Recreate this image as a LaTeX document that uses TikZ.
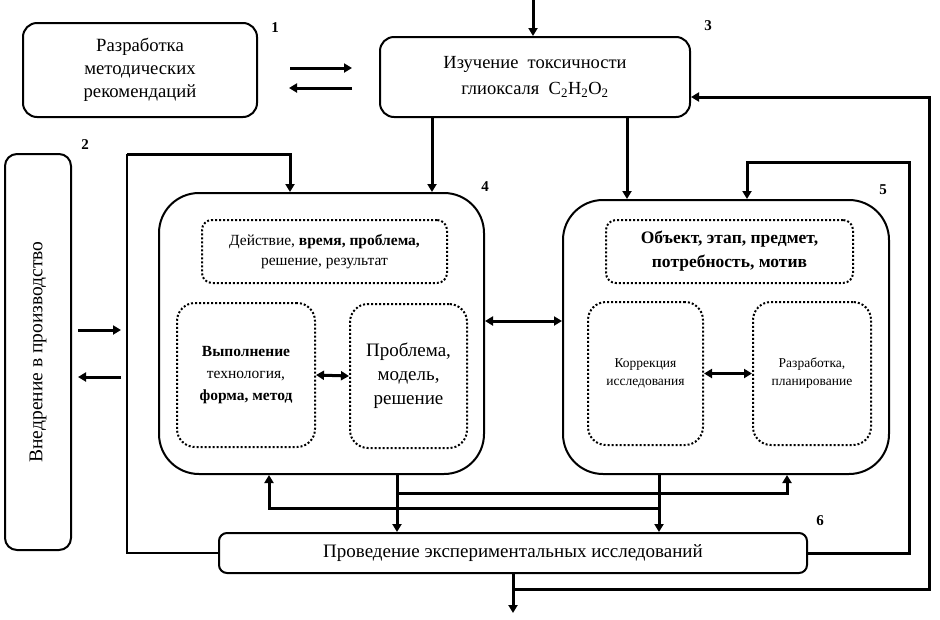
\documentclass[tikz,border=0pt]{standalone}
\usepackage{fontspec}
\setmainfont{Liberation Serif}
\usetikzlibrary{arrows.meta}

\tikzset{
  box/.style={draw, line width=2pt, rounded corners=14pt, align=center, inner sep=2pt},
  inbox/.style={draw, dotted, line width=2pt, rounded corners=14pt, align=center, inner sep=2pt},
  arr/.style={line width=3pt, -{Triangle[length=8pt,width=9pt]}},
  dbl/.style={line width=3pt, {Triangle[length=8pt,width=9pt]}-{Triangle[length=8pt,width=9pt]}},
  thinline/.style={line width=1.5pt},
  num/.style={font=\fontsize{15}{15}\selectfont\bfseries}
}

\begin{document}
\begin{tikzpicture}[x=1pt, y=-1pt]
\useasboundingbox (0,0) rectangle (940,619);

\node (b1) at (140,70) [box, minimum width=234pt, minimum height=94pt, font=\fontsize{18.7}{23}\selectfont] {Разработка\\методических\\рекомендаций};
\node (b3) at (535,77) [box, minimum width=310pt, minimum height=80pt, font=\fontsize{18.5}{26}\selectfont] {Изучение\ \ токсичности\\глиоксаля\ \ C\textsubscript{2}H\textsubscript{2}O\textsubscript{2}};
\node (b2) at (38,352) [box, rounded corners=12pt, minimum width=66pt, minimum height=396pt] {};
\node (b2t) at (b2.center) [rotate=90, font=\fontsize{19.5}{19.5}\selectfont] {Внедрение в производство};
\node (b4) at (321.5,333.5) [box, rounded corners=40pt, minimum width=325pt, minimum height=281pt] {};
\node (b5) at (726,337) [box, rounded corners=40pt, minimum width=326pt, minimum height=274pt] {};
\node (b6) at (513,553) [box, rounded corners=8pt, minimum width=588pt, minimum height=40pt, font=\fontsize{19}{19}\selectfont] {Проведение экспериментальных исследований};

\node (b4t) at (324.5,251.5) [inbox, rounded corners=10pt, minimum width=245pt, minimum height=63pt, font=\fontsize{15.5}{20}\selectfont] {Действие, \textbf{время, проблема,}\\решение, результат};
\node (b4l) at (246,375) [inbox, rounded corners=18pt, minimum width=138pt, minimum height=144pt, font=\fontsize{15.5}{22}\selectfont] {\textbf{Выполнение}\\технология,\\\textbf{форма, метод}};
\node (b4r) at (408.5,376) [inbox, rounded corners=18pt, minimum width=117pt, minimum height=144pt, font=\fontsize{19}{24}\selectfont] {Проблема,\\модель,\\решение};
\node (b5t) at (729.5,251.5) [inbox, rounded corners=10pt, minimum width=247pt, minimum height=63pt, font=\fontsize{17.5}{24}\selectfont\bfseries] {Объект, этап, предмет,\\потребность, мотив};
\node (b5l) at (645.5,373.5) [inbox, rounded corners=18pt, minimum width=115pt, minimum height=143pt, font=\fontsize{13.5}{18}\selectfont] {Коррекция\\исследования};
\node (b5r) at (812,373.5) [inbox, rounded corners=18pt, minimum width=118pt, minimum height=143pt, font=\fontsize{13.5}{18}\selectfont] {Разработка,\\планирование};

\node (n1) at (275,28) [num] {1};
\node (n2) at (85,145) [num] {2};
\node (n3) at (708,26) [num] {3};
\node (n4) at (485,187) [num] {4};
\node (n5) at (883,190) [num] {5};
\node (n6) at (820,521) [num] {6};

\coordinate (t3) at (533,0);
\coordinate (a1) at (290,68);
\coordinate (a2) at (352,68);
\coordinate (a3) at (352,88);
\coordinate (a4) at (289,88);
\coordinate (c1) at (78,330);
\coordinate (c2) at (121,330);
\coordinate (c3) at (121,377);
\coordinate (c4) at (78,377);
\coordinate (x34) at (432,0);
\coordinate (x35) at (627,0);
\coordinate (x4d) at (397,0);
\coordinate (x5d) at (659,0);
\coordinate (x4u) at (269,0);
\coordinate (x5u) at (787,0);
\coordinate (y1) at (0,493);
\coordinate (y2) at (0,508);
\coordinate (lp) at (127,154);
\coordinate (x4l) at (290,0);
\coordinate (rp) at (909,162);
\coordinate (x5l) at (747,0);
\coordinate (op) at (929,97);

\draw[arr] (t3) -- (t3 |- b3.north);
\draw[arr] (a1) -- (a2);
\draw[arr] (a3) -- (a4);
\draw[arr] (c1) -- (c2);
\draw[arr] (c3) -- (c4);
\draw[arr] (b3.south -| x34) -- (b4.north -| x34);
\draw[arr] (b3.south -| x35) -- (b5.north -| x35);
\draw[thinline] (b6.west) -| (lp);
\draw[arr] (lp) -| (b4.north -| x4l);
\draw[arr] (b6.east) -| (rp) -| (b5.north -| x5l);
\draw[arr] (b6.south) -- ++(0,39);
\draw[arr] ([yshift=-15pt]b6.south) -| (op) -- (b3.east |- op);
\draw[dbl] ([yshift=12.5pt]b4.east) -- ([yshift=12.5pt]b4.east -| b5.west);
\draw[dbl] (b4l.east) -- (b4r.west);
\draw[dbl] (b5l.east) -- (b5r.west);
\draw[arr] (b4.south -| x4d) -- (b6.north -| x4d);
\draw[arr] (b5.south -| x5d) -- (b6.north -| x5d);
\draw[arr] (y1 -| x4d) -| (b5.south -| x5u);
\draw[arr] (y2 -| x5d) -| (b4.south -| x4u);

\end{tikzpicture}
\end{document}
